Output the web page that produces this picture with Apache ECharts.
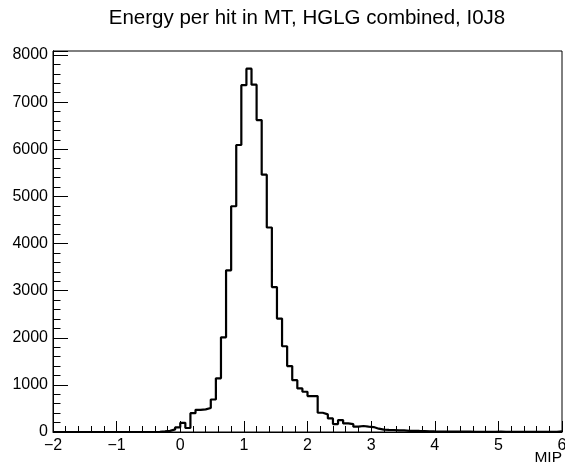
<!DOCTYPE html>
<html><head><meta charset="utf-8">
<script src="https://cdn.jsdelivr.net/npm/echarts@6/dist/echarts.min.js"></script>
<style>html,body{margin:0;padding:0;background:#fff}#c{width:565px;height:464px}</style>
</head><body><div id="c"></div>
<script>
// Histogram: 100 bins of width 0.08 from -2 to 6
const binStart = -2;
const binWidth = 0.08;
const counts = [
  0,0,0,0,0,0,0,0,0,0,
  0,0,0,0,0,0,0,0,0,0,
  3,12,25,55,100,195,85,400,470,480,
  510,690,1140,2010,3430,4790,6090,7360,7710,7370,
  6620,5460,4340,3075,2406,1820,1400,1100,924,854,
  762,762,409,374,289,169,254,183,169,113,
  127,113,105,70,50,45,42,35,35,25,
  25,22,20,15,12,10,9,8,8,7,
  6,6,5,5,5,4,4,8,3,2,
  2,2,2,1,4,4,5,4,5,15
];
const xTickValues = [-2,-1,0,1,2,3,4,5,6];
const yTickValues = [0,1000,2000,3000,4000,5000,6000,7000,8000];
const yMax = 8085;
const titleText = 'Energy per hit in MT, HGLG combined, I0J8';
const xTitle = 'MIP';

const FONT = '"Liberation Sans", Arial, Helvetica, sans-serif';
const edges = counts.map((v, i) => [Math.round((binStart + i * binWidth) * 1000) / 1000, v]);
edges.push([Math.round((binStart + counts.length * binWidth) * 1000) / 1000, counts[counts.length - 1]]);

const chart = echarts.init(document.getElementById('c'), null, {renderer: 'canvas'});
chart.setOption({
  animation: false,
  backgroundColor: '#fff',
  graphic: [{
    type: 'text', x: 307, y: 18,
    style: {text: titleText, fontSize: 20.5, fontFamily: FONT, fill: '#000', textAlign: 'center', textVerticalAlign: 'middle'}
  }, {
    type: 'text', x: 562, y: 458,
    style: {text: xTitle, fontSize: 15.5, fontFamily: FONT, fill: '#000', textAlign: 'right', textVerticalAlign: 'middle'}
  }],
  grid: {left: 53, right: 3, top: 51, bottom: 32, show: true, borderColor: '#000', borderWidth: 1,
    backgroundColor: 'transparent', containLabel: false, outerBoundsMode: 'none'},
  xAxis: {
    type: 'value', min: xTickValues[0], max: xTickValues[xTickValues.length - 1], interval: 1,
    axisLine: {show: true, onZero: false, lineStyle: {color: '#000', width: 1}},
    axisTick: {show: true, inside: true, length: 11, lineStyle: {color: '#000', width: 1}},
    minorTick: {show: true, splitNumber: 5, length: 6, lineStyle: {color: '#000', width: 1}},
    axisLabel: {fontSize: 16, fontFamily: FONT, color: '#000', margin: 6, formatter: v => String(v).replace('-', '\u2212')},
    splitLine: {show: false}, minorSplitLine: {show: false}
  },
  yAxis: [{
    type: 'value', min: 0, max: yMax, interval: 200, position: 'left',
    axisLine: {show: true, onZero: false, lineStyle: {color: '#000', width: 1}},
    axisTick: {show: true, inside: true, length: 7.5, lineStyle: {color: '#000', width: 1}},
    axisLabel: {show: false}, splitLine: {show: false}
  }, {
    type: 'value', min: 0, max: yMax, interval: 1000, position: 'left', offset: 0,
    axisLine: {show: true, onZero: false, lineStyle: {color: '#000', width: 1}},
    axisTick: {show: true, inside: true, length: 15, lineStyle: {color: '#000', width: 1}},
    axisLabel: {fontSize: 16, fontFamily: FONT, color: '#000', margin: 5,
      formatter: v => (yTickValues.indexOf(v) >= 0 ? String(v) : '')},
    splitLine: {show: false}
  }],
  series: [{
    type: 'line', step: 'end', xAxisIndex: 0, yAxisIndex: 0,
    data: edges, symbol: 'none', showSymbol: false,
    lineStyle: {color: '#000', width: 2.2}, clip: true
  }]
});
</script></body></html>
